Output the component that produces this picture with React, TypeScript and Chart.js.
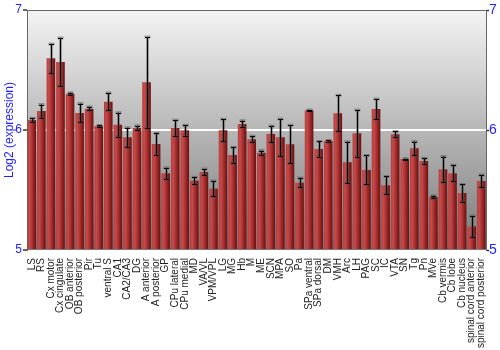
import React, { useEffect, useRef } from "react";
import { Chart, registerables } from "chart.js";

Chart.register(...registerables);

const categories = [
  "LS", "RS", "Cx motor", "Cx cingulate", "OB anterior", "OB posterior", "Pir", "Tu",
  "ventral S", "CA1", "CA2/CA3", "DG", "A anterior", "A posterior", "GP", "CPu lateral",
  "CPu medial", "MD", "VA/VL", "VPM/VPL", "LG", "MG", "Hb", "M", "ME", "SCN", "MPA",
  "SO", "Pa", "SPa ventral", "SPa dorsal", "DM", "VMH", "Arc", "LH", "PAG", "SC", "IC",
  "VTA", "SN", "Tg", "Pn", "MVe", "Cb vermis", "Cb lobe", "Cb nucleus",
  "spinal cord anterior", "spinal cord posterior",
];

const means = [
  6.083, 6.158, 6.597, 6.567, 6.303, 6.142, 6.178, 6.033,
  6.236, 6.044, 5.939, 6.017, 6.397, 5.883, 5.639, 6.017,
  5.997, 5.578, 5.65, 5.511, 5.997, 5.792, 6.05, 5.922, 5.811, 5.967, 5.939,
  5.881, 5.561, 6.164, 5.842, 5.908, 6.139, 5.731, 5.972, 5.667, 6.175, 5.539,
  5.964, 5.758, 5.847, 5.742, 5.442, 5.672, 5.639, 5.475,
  5.197, 5.575,
];

const errors = [
  0.014, 0.054, 0.12, 0.2, 0.008, 0.078, 0.015, 0.005,
  0.073, 0.1, 0.08, 0.018, 0.378, 0.089, 0.046, 0.064,
  0.043, 0.029, 0.025, 0.065, 0.092, 0.064, 0.028, 0.025, 0.018, 0.067, 0.153,
  0.158, 0.038, 0.003, 0.063, 0.005, 0.15, 0.172, 0.194, 0.121, 0.083, 0.074,
  0.024, 0.004, 0.057, 0.022, 0.01, 0.107, 0.067, 0.071,
  0.086, 0.051,
];

const yTicks = [5, 6, 7];

const FONT = "'Liberation Sans', Arial, sans-serif";
const BLUE = "#1f1fff";
const BAR_PCT = 0.9;

const bgPlugin = {
  id: "bgGradient",
  beforeDraw(chart: any) {
    const { ctx, chartArea } = chart;
    if (!chartArea) return;
    const g = ctx.createLinearGradient(0, chartArea.top, 0, chartArea.bottom);
    g.addColorStop(0, "#f4f4f4");
    g.addColorStop(1, "#7a7a7a");
    ctx.save();
    ctx.fillStyle = g;
    ctx.fillRect(chartArea.left, chartArea.top, chartArea.right - chartArea.left, chartArea.bottom - chartArea.top);
    ctx.restore();
  },
  beforeDatasetsDraw(chart: any) {
    const { ctx, chartArea } = chart;
    ctx.save();
    ctx.strokeStyle = "#666666";
    ctx.lineWidth = 1;
    ctx.beginPath();
    ctx.moveTo(chartArea.left, chartArea.top + 0.5);
    ctx.lineTo(chartArea.right, chartArea.top + 0.5);
    ctx.stroke();
    ctx.restore();
  },
};

const errorPlugin = {
  id: "errorBars",
  afterDatasetsDraw(chart: any) {
    const { ctx } = chart;
    const x = chart.scales.x;
    const y = chart.scales.y;
    ctx.save();
    means.forEach((m, i) => {
      const e = errors[i];
      const px = Math.round(x.getPixelForValue(i)) + 0.5;
      const top = y.getPixelForValue(m + e);
      const bot = y.getPixelForValue(m - e);
      ctx.strokeStyle = "rgba(70,70,70,0.45)";
      ctx.lineWidth = 3;
      ctx.beginPath();
      ctx.moveTo(px, top);
      ctx.lineTo(px, bot);
      ctx.moveTo(px - 3, top);
      ctx.lineTo(px + 3, top);
      ctx.moveTo(px - 3, bot);
      ctx.lineTo(px + 3, bot);
      ctx.stroke();
      ctx.strokeStyle = "#000000";
      ctx.lineWidth = 1;
      ctx.beginPath();
      ctx.moveTo(px, top);
      ctx.lineTo(px, bot);
      ctx.moveTo(px - 2.5, Math.round(top) + 0.5);
      ctx.lineTo(px + 2.5, Math.round(top) + 0.5);
      ctx.moveTo(px - 2.5, Math.round(bot) + 0.5);
      ctx.lineTo(px + 2.5, Math.round(bot) + 0.5);
      ctx.stroke();
    });
    ctx.restore();
  },
};

export default function App() {
  const ref = useRef<HTMLCanvasElement | null>(null);

  useEffect(() => {
    document.body.style.margin = "0";
    if (!ref.current) return;
    const chart = new Chart(ref.current, {
      type: "bar",
      data: {
        labels: categories,
        datasets: [
          {
            data: means,
            base: 5,
            categoryPercentage: 1,
            barPercentage: BAR_PCT,
            borderWidth: 0,
            backgroundColor: (c: any) => {
              const ch = c.chart;
              const xs = ch.scales?.x;
              if (!xs || c.dataIndex === undefined) return "#a83030";
              const cx = xs.getPixelForValue(c.dataIndex);
              const w = (xs.width / categories.length) * BAR_PCT;
              if (!isFinite(cx) || !isFinite(w) || w <= 0) return "#a83030";
              const g = ch.ctx.createLinearGradient(cx - w / 2, 0, cx + w / 2, 0);
              g.addColorStop(0, "#b53a3a");
              g.addColorStop(0.25, "#c64c4c");
              g.addColorStop(0.6, "#a42c2c");
              g.addColorStop(1, "#661010");
              return g;
            },
          } as any,
        ],
      },
      options: {
        animation: false,
        responsive: false,
        maintainAspectRatio: false,
        layout: { padding: { top: 10, bottom: 0, left: 0, right: 0 } },
        plugins: { legend: { display: false }, tooltip: { enabled: false } },
        scales: {
          x: {
            grid: { display: false },
            border: { display: false },
            ticks: {
              autoSkip: false,
              minRotation: 90,
              maxRotation: 90,
              padding: 0,
              color: "#222222",
              font: { family: FONT, size: 10 },
            },
            afterFit: (s: any) => {
              s.height = 100;
            },
          },
          y: {
            position: "left",
            min: 5,
            max: 7,
            afterBuildTicks: (s: any) => {
              s.ticks = yTicks.map((v) => ({ value: v }));
            },
            grid: {
              color: (c: any) => (c.tick && c.tick.value === 6 ? "#ffffff" : "rgba(0,0,0,0)"),
              lineWidth: 2,
              tickColor: "#333333",
              tickLength: 4,
              tickWidth: 1.5,
              drawTicks: true,
            },
            border: { display: true, color: "#666666", width: 1 },
            ticks: {
              color: BLUE,
              padding: 1,
              font: { family: FONT, size: 12 },
            },
            title: {
              display: true,
              text: "Log2 (expression)",
              color: BLUE,
              padding: 2,
              font: { family: FONT, size: 12 },
            },
            afterFit: (s: any) => {
              s.width = 27;
            },
          },
          y2: {
            position: "right",
            min: 5,
            max: 7,
            afterBuildTicks: (s: any) => {
              s.ticks = yTicks.map((v) => ({ value: v }));
            },
            grid: {
              drawOnChartArea: false,
              tickColor: "#333333",
              tickLength: 3,
              tickWidth: 1.5,
            },
            border: { display: true, color: "#666666", width: 1 },
            ticks: {
              color: BLUE,
              padding: 0,
              font: { family: FONT, size: 14 },
            },
            afterFit: (s: any) => {
              s.width = 14;
            },
          },
        },
      },
      plugins: [bgPlugin, errorPlugin],
    } as any);
    return () => chart.destroy();
  }, []);

  return (
    <div style={{ width: 500, height: 350 }}>
      <canvas ref={ref} width={500} height={350} />
    </div>
  );
}
